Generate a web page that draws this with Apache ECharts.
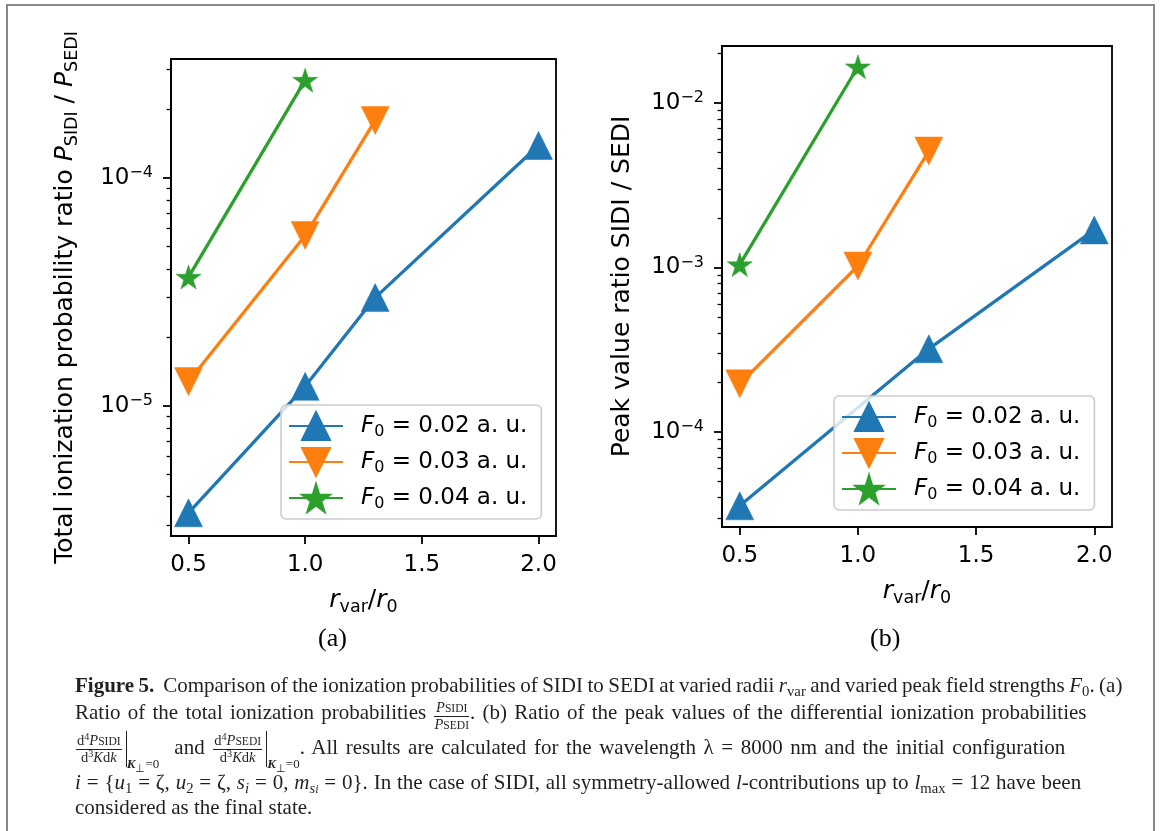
<!DOCTYPE html>
<html><head><meta charset="utf-8">
<script src="https://cdn.jsdelivr.net/npm/echarts@6/dist/echarts.min.js"></script>
<style>
html,body{margin:0;padding:0;background:#fff;}
#wrap{position:relative;width:1165px;height:831px;overflow:hidden;background:#fff;}
#chart{position:absolute;left:0;top:0;width:1165px;height:831px;}
#frame{position:absolute;left:6px;top:4px;width:1149px;height:900px;border:2px solid #888;box-sizing:border-box;pointer-events:none;}
.ln{position:absolute;left:75px;white-space:nowrap;font-family:"Liberation Serif",serif;font-size:21px;line-height:21px;color:#231f20;}
.sb{font-size:70%;position:relative;top:0.3em;}
.sp{font-size:70%;position:relative;top:-0.45em;}
.fr{display:inline-block;vertical-align:middle;text-align:center;font-size:14.5px;line-height:15px;margin:0 1px;word-spacing:0;}
.fr .nu{border-bottom:1px solid #231f20;padding:0 1px;}
.bar{display:inline-block;height:36px;border-left:1px solid #231f20;vertical-align:middle;margin-left:3px;}
.ev{font-size:13px;position:relative;top:14px;word-spacing:0;}
</style></head>
<body>
<div id="wrap">
<div id="chart"></div>
<div id="frame"></div>
<div class="ln" style="top:675px;word-spacing:-0.8px;"><b>Figure 5.</b>&nbsp; Comparison of the ionization probabilities of SIDI to SEDI at varied radii <i>r</i><span class="sb">var</span> and varied peak field strengths <i>F</i><span class="sb">0</span>. (a)</div>
<div class="ln" style="top:700px;word-spacing:2px;">Ratio of the total ionization probabilities <span class="fr" style="vertical-align:-10px;"><div class="nu"><i>P</i><span style="font-size:80%">SIDI</span></div><div><i>P</i><span style="font-size:80%">SEDI</span></div></span>. (b) Ratio of the peak values of the differential ionization probabilities</div>
<div class="ln" style="top:731px;word-spacing:2.3px;"><span class="fr"><div class="nu">d<span class="sp">4</span><i>P</i><span style="font-size:80%">SIDI</span></div><div>d<span class="sp">3</span><i>K</i>d<i>k</i></div></span><span class="bar"></span><span class="ev"><b><i>K</i></b><sub>⊥</sub>=0</span> &nbsp;and <span class="fr"><div class="nu">d<span class="sp">4</span><i>P</i><span style="font-size:80%">SEDI</span></div><div>d<span class="sp">3</span><i>K</i>d<i>k</i></div></span><span class="bar"></span><span class="ev"><b><i>K</i></b><sub>⊥</sub>=0</span>. All results are calculated for the wavelength λ = 8000 nm and the initial configuration</div>
<div class="ln" style="top:772px;word-spacing:0.6px;"><i>i</i> = {<i>u</i><span class="sb">1</span> = ζ, <i>u</i><span class="sb">2</span> = ζ, <i>s</i><span class="sb"><i>i</i></span> = 0, <i>m</i><span class="sb"><i>s<span style="font-size:80%">i</span></i></span> = 0}. In the case of SIDI, all symmetry-allowed <i>l</i>-contributions up to <i>l</i><span class="sb">max</span> = 12 have been</div>
<div class="ln" style="top:797px;">considered as the final state.</div>
</div>
<script>
// ---------- data ----------
const xTickValues = [0.5, 1.0, 1.5, 2.0];
const seriesNames = ['F0 = 0.02 a. u.', 'F0 = 0.03 a. u.', 'F0 = 0.04 a. u.'];
const fieldLabels = ['0.02', '0.03', '0.04'];

// (a) total ionization probability ratio P_SIDI / P_SEDI
const aX_F002 = [0.5, 1.0, 1.3, 2.0];
const aY_F002 = [3.4e-6, 1.22e-5, 2.99e-5, 1.39e-4];
const aX_F003 = [0.5, 1.0, 1.3];
const aY_F003 = [1.28e-5, 5.6e-5, 1.79e-4];
const aX_F004 = [0.5, 1.0];
const aY_F004 = [3.68e-5, 2.69e-4];

// (b) peak value ratio SIDI / SEDI
const bX_F002 = [0.5, 1.3, 2.0];
const bY_F002 = [3.55e-5, 3.2e-4, 1.69e-3];
const bX_F003 = [0.5, 1.0, 1.3];
const bY_F003 = [1.96e-4, 1.02e-3, 5.1e-3];
const bX_F004 = [0.5, 1.0];
const bY_F004 = [1.04e-3, 1.66e-2];

// axis ranges and tick labels
const xRange = [0.425, 2.075];
const aYRange = [2.69e-6, 3.33e-4];
const bYRange = [2.64e-5, 2.22e-2];
const aYMajor = [1e-5, 1e-4];
const aYMinor = [3e-6, 4e-6, 5e-6, 6e-6, 7e-6, 8e-6, 9e-6, 2e-5, 3e-5, 4e-5, 5e-5, 6e-5, 7e-5, 8e-5, 9e-5, 2e-4, 3e-4];
const bYMajor = [1e-4, 1e-3, 1e-2];
const bYMinor = [3e-5, 4e-5, 5e-5, 6e-5, 7e-5, 8e-5, 9e-5, 2e-4, 3e-4, 4e-4, 5e-4, 6e-4, 7e-4, 8e-4, 9e-4, 2e-3, 3e-3, 4e-3, 5e-3, 6e-3, 7e-3, 8e-3, 9e-3, 2e-2];

// ---------- styling ----------
const colors = ['#1f77b4', '#ff7f0e', '#2ca02c'];
const FONT = 'DejaVu Sans';
const STAR = 'path://M100 0 L122.45 69.1 L195.1 69.1 L136.33 111.8 L158.78 180.9 L100 138.2 L41.22 180.9 L63.67 111.8 L4.9 69.1 L77.55 69.1 Z';
const markers = [
  {symbol: 'triangle', size: 28, rotate: 0},
  {symbol: 'triangle', size: 28, rotate: 180},
  {symbol: STAR, size: [25, 24], rotate: 0}
];
const AXW = 1.8;
const TICKFS = 23;
const NAMEFS = 25;
const log10 = Math.log10;

const pairs = (xs, ys) => xs.map((x, i) => [x, ys[i]]);
const expLabel = v => '{b|10}{s|\u2212' + Math.abs(Math.round(v)) + '}';
const richTick = {
  b: {fontSize: TICKFS, fontFamily: FONT, color: '#000', lineHeight: 26},
  s: {fontSize: 16, fontFamily: FONT, color: '#000', lineHeight: 10, verticalAlign: 'top'}
};
const richName = {
  i: {fontSize: NAMEFS, fontFamily: FONT, fontStyle: 'italic', color: '#000', lineHeight: 32},
  s: {fontSize: 17.5, fontFamily: FONT, color: '#000', lineHeight: 16, verticalAlign: 'bottom'},
  n: {fontSize: NAMEFS, fontFamily: FONT, color: '#000', lineHeight: 32}
};

function xAxisFor(gi) {
  return {
    type: 'value', gridIndex: gi, min: xRange[0], max: xRange[1], position: 'bottom',
    axisLine: {show: true, onZero: false, lineStyle: {color: '#000', width: AXW}},
    axisTick: {show: true, inside: false, length: 8, lineStyle: {color: '#000', width: AXW}, customValues: xTickValues},
    axisLabel: {show: true, margin: 18, fontSize: TICKFS, fontFamily: FONT, color: '#000', customValues: xTickValues,
      formatter: v => v.toFixed(1)},
    splitLine: {show: false},
    name: '{i|r}{s|var}{n|/}{i|r}{s|0}', nameLocation: 'middle', nameGap: 48,
    nameTextStyle: {fontSize: NAMEFS, fontFamily: FONT, color: '#000', rich: richName}
  };
}
function yAxesFor(gi, range, major, minor, name, nameGap) {
  return [
    { // data axis (log scale)
      type: 'log', logBase: 10, gridIndex: gi, min: range[0], max: range[1], position: 'left',
      axisLine: {show: true, onZero: false, lineStyle: {color: '#000', width: AXW}},
      axisTick: {show: false}, axisLabel: {show: false}, splitLine: {show: false}, minorTick: {show: false},
      name: name, nameLocation: 'middle', nameGap: nameGap, nameRotate: 90,
      nameTextStyle: {fontSize: NAMEFS, fontFamily: FONT, color: '#000', lineHeight: 32, rich: richName}
    },
    { // major decade ticks (exponent space)
      type: 'value', gridIndex: gi, min: log10(range[0]), max: log10(range[1]), position: 'left',
      axisLine: {show: false}, splitLine: {show: false},
      axisTick: {show: true, length: 8, lineStyle: {color: '#000', width: AXW}, customValues: major.map(log10)},
      axisLabel: {show: true, margin: 18, customValues: major.map(log10), formatter: expLabel, rich: richTick}
    },
    { // minor ticks (exponent space)
      type: 'value', gridIndex: gi, min: log10(range[0]), max: log10(range[1]), position: 'left',
      axisLine: {show: false}, splitLine: {show: false}, axisLabel: {show: false},
      axisTick: {show: true, length: 4.4, lineStyle: {color: '#000', width: 1.3}, customValues: minor.map(log10)}
    }
  ];
}
function lineSeries(idx, xs, ys, xi, yi) {
  const m = markers[idx];
  return {
    type: 'line', name: seriesNames[idx], xAxisIndex: xi, yAxisIndex: yi,
    data: pairs(xs, ys), symbol: m.symbol, symbolSize: m.size, symbolRotate: m.rotate,
    showAllSymbol: true, clip: false,
    lineStyle: {color: colors[idx], width: 3.3},
    itemStyle: {color: colors[idx], borderColor: colors[idx], borderWidth: 0.5},
    emphasis: {disabled: true}, z: 2 + idx
  };
}
const legendRich = {
  f: {fontSize: 23, fontFamily: FONT, fontStyle: 'italic', color: '#000', lineHeight: 28, padding: [0, 0, 0, 13]},
  s: {fontSize: 16, fontFamily: FONT, color: '#000', lineHeight: 14, verticalAlign: 'bottom'},
  t: {fontSize: 23, fontFamily: FONT, color: '#000', lineHeight: 28}
};
function legendFor(left, top) {
  return {
    data: seriesNames, orient: 'vertical', left: left, top: top, selectedMode: false,
    itemWidth: 54, itemHeight: 35, itemGap: 6, padding: [6, 14, 6, 7],
    backgroundColor: 'rgba(255,255,255,0.8)', borderColor: '#cccccc', borderWidth: 1.6, borderRadius: 5,
    formatter: name => '{f|F}{s|0}{t| = ' + fieldLabels[seriesNames.indexOf(name)] + ' a. u.}',
    textStyle: {fontSize: 23, fontFamily: FONT, color: '#000', rich: legendRich}, z: 10
  };
}

const chart = echarts.init(document.getElementById('chart'), null, {renderer: 'canvas'});
const yA = yAxesFor(0, aYRange, aYMajor, aYMinor,
  'Total ionization probability ratio {i|P}{s|SIDI}{n| / }{i|P}{s|SEDI}', 90);
const yB = yAxesFor(1, bYRange, bYMajor, bYMinor, 'Peak value ratio SIDI / SEDI', 84);
chart.setOption({
  animation: false,
  textStyle: {fontFamily: FONT},
  grid: [
    {left: 171, top: 59, width: 385, height: 477, show: true, borderColor: '#000', borderWidth: AXW, backgroundColor: 'transparent', containLabel: false},
    {left: 722, top: 46, width: 390, height: 481, show: true, borderColor: '#000', borderWidth: AXW, backgroundColor: 'transparent', containLabel: false}
  ],
  xAxis: [xAxisFor(0), xAxisFor(1)],
  yAxis: yA.concat(yB),
  legend: [legendFor(281, 405), legendFor(834, 396)],
  series: [
    lineSeries(0, aX_F002, aY_F002, 0, 0),
    lineSeries(1, aX_F003, aY_F003, 0, 0),
    lineSeries(2, aX_F004, aY_F004, 0, 0),
    lineSeries(0, bX_F002, bY_F002, 1, 3),
    lineSeries(1, bX_F003, bY_F003, 1, 3),
    lineSeries(2, bX_F004, bY_F004, 1, 3)
  ],
  graphic: [
    {type: 'text', left: 318, top: 626, style: {text: '(a)', font: '26px "Liberation Serif", serif', fill: '#000'}},
    {type: 'text', left: 870, top: 626, style: {text: '(b)', font: '26px "Liberation Serif", serif', fill: '#000'}}
  ]
});
</script>
</body></html>
